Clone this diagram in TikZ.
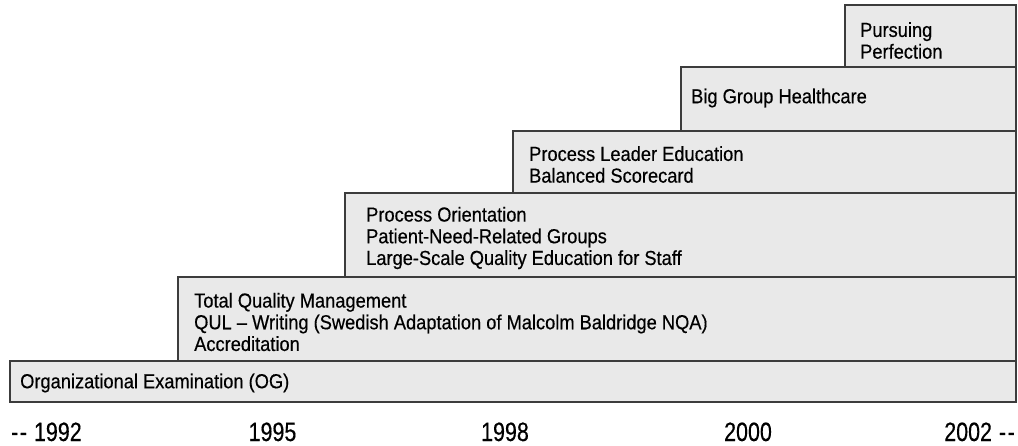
\documentclass[tikz,border=0pt]{standalone}
\usepackage{fontspec}
\setmainfont{Liberation Sans}[FakeStretch=0.9,FakeBold=0.4]
\newfontfamily\yearfont{Liberation Sans}[FakeStretch=0.81,FakeBold=0.4]
\definecolor{boxfill}{HTML}{E9E9E9}
\definecolor{boxline}{HTML}{3C3C3C}
\begin{document}
\begin{tikzpicture}[x=1pt,y=-1pt,
  stage/.style={draw=boxline,fill=boxfill,line width=1.1pt},
  stagetext/.style={anchor=west,align=left,inner sep=0pt,font=\fontsize{20.3}{21.7}\selectfont,text=black},
  year/.style={anchor=base,inner sep=0pt,font=\yearfont\fontsize{26.5}{28}\selectfont,text=black}]
\useasboundingbox (0,0) rectangle (1018,446);
% boxes, bottom to top
\draw[stage] (10,361) rectangle (1016,402);
\draw[stage] (178,277) rectangle (1016,361);
\draw[stage] (345,193) rectangle (1016,277);
\draw[stage] (513,131) rectangle (1016,193);
\draw[stage] (681,67) rectangle (1016,131);
\draw[stage] (845,5) rectangle (1016,67);
% texts
\node[stagetext] (tog) at (20,383) {Organizational Examination (OG)};
\node[stagetext] (ttqm) at (194,322) {Total Quality Management\\QUL -- Writing (Swedish Adaptation of Malcolm Baldridge NQA)\\Accreditation};
\node[stagetext] (tpo) at (366,238) {Process Orientation\\Patient-Need-Related Groups\\Large-Scale Quality Education for Staff};
\node[stagetext] (tple) at (529,164.5) {Process Leader Education\\Balanced Scorecard};
\node[stagetext] (tbgh) at (691,98) {Big Group Healthcare};
\node[stagetext] (tpp) at (860,40.5) {Pursuing\\Perfection};
% years
\node[year,anchor=base west] (y92) at (11,441) {{-}\hspace{1.5pt}{-}\hspace{7pt}1992};
\node[year] (y95) at (272.5,441) {1995};
\node[year] (y98) at (505,441) {1998};
\node[year] (y00) at (748,441) {2000};
\node[year,anchor=base east] (y02) at (1015,441) {2002\hspace{7pt}{-}\hspace{1.5pt}{-}};
\end{tikzpicture}
\end{document}
